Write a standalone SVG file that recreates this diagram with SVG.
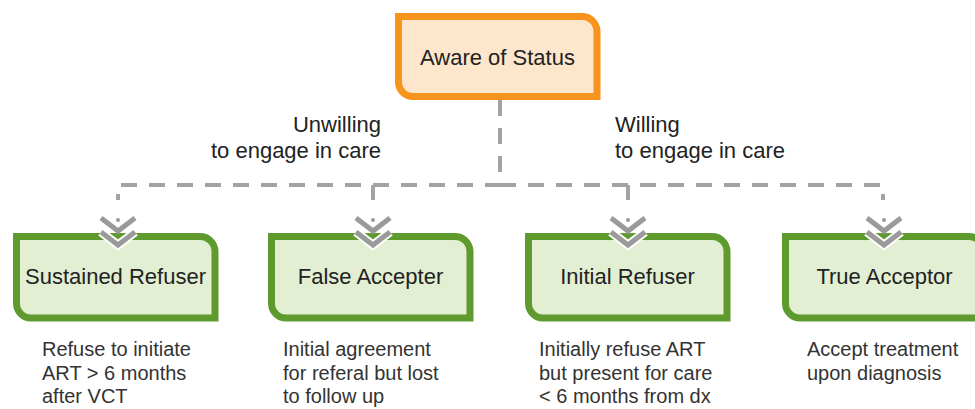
<svg xmlns="http://www.w3.org/2000/svg" width="975" height="409" viewBox="0 0 975 409">
<style>
.lbl{font-family:"Liberation Sans",Arial,sans-serif;font-size:22px;fill:#222}
.desc{font-family:"Liberation Sans",Arial,sans-serif;font-size:20px;fill:#333}
.green{fill:#e3efd3;stroke:#5f9a2f;stroke-width:7}
.orange{fill:#fde6cb;stroke:#f7941e;stroke-width:7}
.dash{fill:none;stroke:#a3a3a3;stroke-width:4;stroke-dasharray:16 12}
.chev{fill:none;stroke:#9a9a9a;stroke-width:5}
.halo{fill:none;stroke:#fff;stroke-width:9}
</style>
<defs>
<g id="chev">
<path class="halo" d="M-17,232 L0,245 L17,232"/>
<path class="chev" d="M-17,218 L0,231 L17,218"/>
<path class="chev" d="M-17,232 L0,245 L17,232"/>
<circle cx="0" cy="220" r="2" fill="#9a9a9a"/>
</g>
</defs>
<rect width="975" height="409" fill="#fff"/>
<g id="aware">
<path class="orange" d="M398.5,16.5 H582 A15,15 0 0 1 597,31.5 V96.5 H413 A14.5,14.5 0 0 1 398.5,82 Z"/>
<text class="lbl" x="497.5" y="65" text-anchor="middle">Aware of Status</text>
</g>
<g id="unwilling-label">
<text class="lbl" x="381" y="132" text-anchor="end">Unwilling</text>
<text class="lbl" x="381" y="158" text-anchor="end">to engage in care</text>
</g>
<g id="willing-label">
<text class="lbl" x="615" y="132">Willing</text>
<text class="lbl" x="615" y="158">to engage in care</text>
</g>
<g id="sustained">
<path class="green" d="M16.5,236.5 H200 A15,15 0 0 1 215,251.5 V318 H31 A14.5,14.5 0 0 1 16.5,303.5 Z"/>
<text class="lbl" x="115.5" y="284" text-anchor="middle">Sustained Refuser</text>
<text class="desc" x="42" y="356">Refuse to initiate</text>
<text class="desc" x="42" y="380">ART &gt; 6 months</text>
<text class="desc" x="42" y="403">after VCT</text>
</g>
<g id="false">
<path class="green" d="M271.5,236.5 H455 A15,15 0 0 1 470,251.5 V318 H286 A14.5,14.5 0 0 1 271.5,303.5 Z"/>
<text class="lbl" x="370.5" y="284" text-anchor="middle">False Accepter</text>
<text class="desc" x="283" y="356">Initial agreement</text>
<text class="desc" x="283" y="380">for referal but lost</text>
<text class="desc" x="283" y="403">to follow up</text>
</g>
<g id="initial">
<path class="green" d="M528.5,236.5 H712 A15,15 0 0 1 727,251.5 V318 H543 A14.5,14.5 0 0 1 528.5,303.5 Z"/>
<text class="lbl" x="627.5" y="284" text-anchor="middle">Initial Refuser</text>
<text class="desc" x="539" y="356">Initially refuse ART</text>
<text class="desc" x="539" y="380">but present for care</text>
<text class="desc" x="539" y="403">&lt; 6 months from dx</text>
</g>
<g id="true">
<path class="green" d="M785.5,236.5 H969 A15,15 0 0 1 984,251.5 V318 H800 A14.5,14.5 0 0 1 785.5,303.5 Z"/>
<text class="lbl" x="884.5" y="284" text-anchor="middle">True Acceptor</text>
<text class="desc" x="807" y="356">Accept treatment</text>
<text class="desc" x="807" y="380">upon diagnosis</text>
</g>
<g id="connectors">
<path class="dash" d="M500,100 V185 H118 V200"/>
<path class="dash" d="M500,185 H883 V200"/>
<path class="dash" d="M373,185 V200"/>
<path class="dash" d="M628,185 V200"/>
<use href="#chev" x="118"/>
<use href="#chev" x="373"/>
<use href="#chev" x="628"/>
<use href="#chev" x="884"/>
</g>
</svg>
